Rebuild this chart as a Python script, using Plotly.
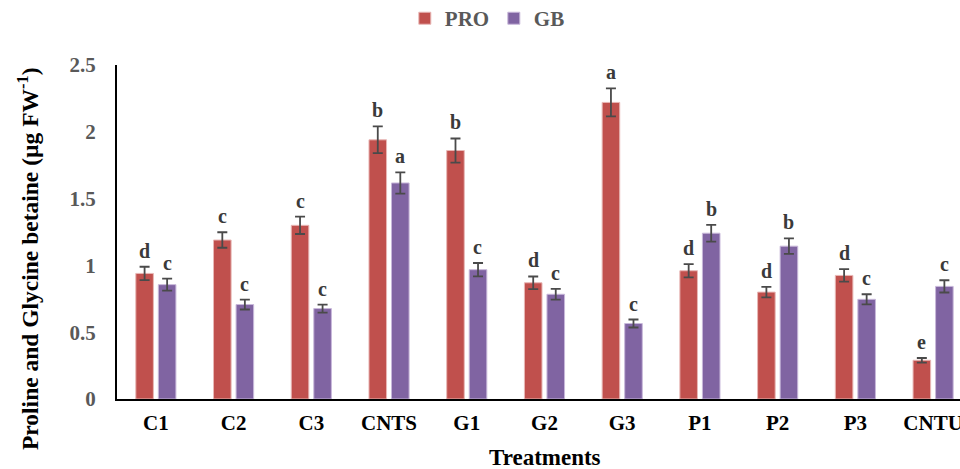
import plotly.graph_objects as go

categories = ["C1", "C2", "C3", "CNTS", "G1", "G2", "G3", "P1", "P2", "P3", "CNTU"]
pro_values = [0.94, 1.19, 1.30, 1.94, 1.86, 0.87, 2.22, 0.96, 0.80, 0.925, 0.29]
pro_errors = [0.05, 0.058, 0.065, 0.10, 0.09, 0.047, 0.105, 0.05, 0.04, 0.047, 0.017]
pro_letters = ["d", "c", "c", "b", "b", "d", "a", "d", "d", "d", "e"]
gb_values = [0.856, 0.707, 0.677, 1.617, 0.968, 0.784, 0.565, 1.241, 1.144, 0.746, 0.843]
gb_errors = [0.045, 0.037, 0.03, 0.08, 0.05, 0.04, 0.03, 0.063, 0.058, 0.038, 0.046]
gb_letters = ["c", "c", "c", "a", "c", "c", "c", "b", "b", "c", "c"]
y_ticks = [0, 0.5, 1, 1.5, 2, 2.5]
y_tick_labels = ["0", "0.5", "1", "1.5", "2", "2.5"]

FONT = "Liberation Serif, Times New Roman, serif"
PRO_COLOR = "#C0504D"
GB_COLOR = "#8064A2"
ERR_COLOR = "#4A4A4A"

fig = go.Figure()
fig.add_trace(go.Bar(
    name="<b>PRO</b>", x=categories, y=pro_values,
    marker=dict(color=PRO_COLOR, line=dict(color="#E8B8B6", width=1)),
    error_y=dict(type="data", array=pro_errors, color=ERR_COLOR, thickness=1.8, width=5),
))
fig.add_trace(go.Bar(
    name="<b>GB</b>", x=categories, y=gb_values,
    marker=dict(color=GB_COLOR, line=dict(color="#C8B8DA", width=1)),
    error_y=dict(type="data", array=gb_errors, color=ERR_COLOR, thickness=1.8, width=5),
))

annotations = []
n = len(categories)
for i in range(n):
    annotations.append(dict(
        x=i, y=pro_values[i] + pro_errors[i], xref="x", yref="y",
        xshift=-11.2, yshift=3, text=f"<b>{pro_letters[i]}</b>", showarrow=False,
        yanchor="bottom", font=dict(family=FONT, size=20, color="#3A3A3A")))
    annotations.append(dict(
        x=i, y=gb_values[i] + gb_errors[i], xref="x", yref="y",
        xshift=11.2, yshift=3, text=f"<b>{gb_letters[i]}</b>", showarrow=False,
        yanchor="bottom", font=dict(family=FONT, size=20, color="#3A3A3A")))

annotations.append(dict(
    x=-0.1056, y=0.422, xref="paper", yref="paper", textangle=-90,
    text="<b>Proline and Glycine betaine (µg FW<sup>-1</sup>)</b>", showarrow=False,
    xanchor="center", yanchor="middle", font=dict(family=FONT, size=23.5, color="#000000")))
annotations.append(dict(
    x=0.508, y=-0.174, xref="paper", yref="paper",
    text="<b>Treatments</b>", showarrow=False,
    xanchor="center", yanchor="middle", font=dict(family=FONT, size=23, color="#000000")))

fig.update_layout(
    width=960, height=469,
    margin=dict(l=117, r=0, t=65, b=70, autoexpand=False),
    paper_bgcolor="white", plot_bgcolor="white",
    barmode="group", bargap=0.42, bargroupgap=0.22,
    font=dict(family=FONT),
    showlegend=True,
    legend=dict(orientation="h", x=0.447, y=1.139, xanchor="center", yanchor="middle",
                font=dict(family=FONT, size=21, color="#595959"),
                itemwidth=30, entrywidth=44, entrywidthmode="pixels", traceorder="normal"),
    annotations=annotations,
    xaxis=dict(
        range=[-0.5, 10.346], showline=True, linecolor="#000000", linewidth=2,
        ticks="", tickfont=dict(family=FONT, size=21, color="#000000"),
        tickprefix="<b>", ticksuffix="</b>", showgrid=False, zeroline=False,
        ticklabelstandoff=4,
    ),
    yaxis=dict(
        range=[0, 2.5], tickvals=y_ticks, ticktext=[f"<b>{t}</b>" for t in y_tick_labels],
        showline=True, linecolor="#000000", linewidth=2, ticks="",
        tickfont=dict(family=FONT, size=21, color="#595959"), ticklabelstandoff=15,
        showgrid=False, zeroline=False,
    ),
)

fig.write_html("out.html", config={"displayModeBar": False},
               post_script="document.body.style.margin='0';document.body.style.overflow='hidden';")
